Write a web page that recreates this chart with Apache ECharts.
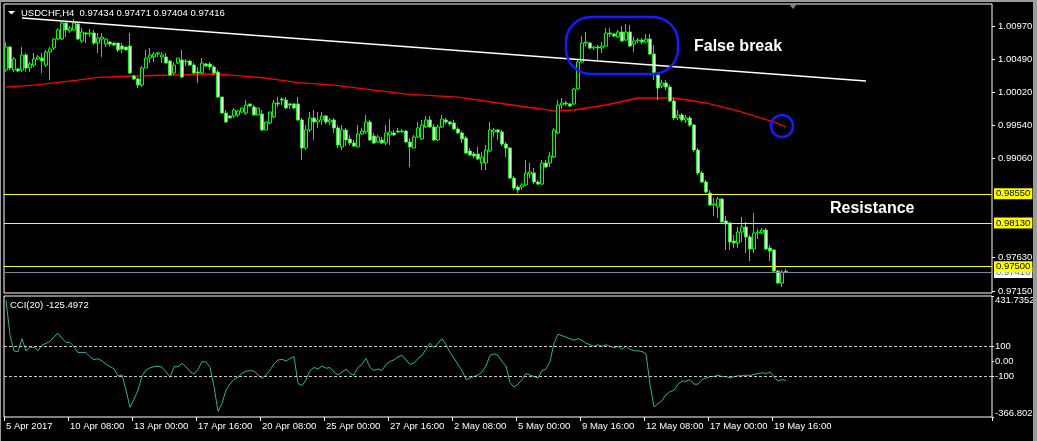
<!DOCTYPE html>
<html><head><meta charset="utf-8">
<script src="https://cdn.jsdelivr.net/npm/echarts@6/dist/echarts.min.js"></script>
<style>html,body{margin:0;padding:0;background:#000;overflow:hidden}#c{width:1037px;height:441px}</style>
</head><body><div id="c"></div>
<script>
// ---------- DATA ----------
const tickLabels = ['5 Apr 2017','10 Apr 08:00','13 Apr 00:00','17 Apr 16:00','20 Apr 08:00','25 Apr 00:00','27 Apr 16:00','2 May 08:00','5 May 00:00','9 May 16:00','12 May 08:00','17 May 00:00','19 May 16:00'];
// [open, close, low, high]
const candles = [
[1.00336,1.00667,1.00306,1.00739],[1.00667,1.00364,1.00336,1.00681],[1.00336,1.00494,1.00306,1.00523],[1.00350,1.00321,1.00306,1.00364],
[1.00336,1.00552,1.00306,1.00667],[1.00552,1.00364,1.00306,1.00581],[1.00364,1.00422,1.00306,1.00451],[1.00407,1.00494,1.00379,1.00581],
[1.00494,1.00523,1.00480,1.00552],[1.00508,1.00465,1.00292,1.00581],[1.00407,1.00595,1.00379,1.00624],[1.00595,1.00638,1.00191,1.00667],
[1.00653,1.00782,1.00624,1.00797],[1.00782,1.00912,1.00768,1.00941],[1.00782,1.01013,1.00768,1.01028],[1.01013,1.00912,1.00811,1.01028],
[1.00898,1.00941,1.00869,1.00970],[1.00912,1.01013,1.00898,1.01071],[1.00999,1.00782,1.00768,1.01013],[1.00754,1.00883,1.00725,1.00941],
[1.00869,1.00855,1.00725,1.00883],[1.00855,1.00869,1.00811,1.00927],[1.00869,1.00725,1.00696,1.00912],[1.00725,1.00797,1.00581,1.00869],
[1.00782,1.00811,1.00523,1.00869],[1.00710,1.00782,1.00667,1.00797],[1.00739,1.00710,1.00681,1.00754],[1.00725,1.00696,1.00681,1.00725],
[1.00725,1.00624,1.00595,1.00725],[1.00681,1.00638,1.00581,1.00725],[1.00667,1.00624,1.00624,1.00667],[1.00681,1.00292,1.00278,1.00869],
[1.00249,1.00206,1.00191,1.00263],[1.00206,1.00119,1.00076,1.00234],[1.00119,1.00364,1.00090,1.00393],[1.00364,1.00508,1.00364,1.00624],
[1.00508,1.00552,1.00436,1.00653],[1.00523,1.00566,1.00451,1.00595],[1.00566,1.00581,1.00523,1.00595],[1.00523,1.00552,1.00436,1.00595],
[1.00523,1.00436,1.00436,1.00581],[1.00465,1.00263,1.00249,1.00480],[1.00292,1.00407,1.00263,1.00451],[1.00436,1.00508,1.00422,1.00508],
[1.00480,1.00234,1.00220,1.00624],[1.00451,1.00465,1.00393,1.00494],[1.00465,1.00407,1.00393,1.00480],[1.00407,1.00292,1.00278,1.00436],
[1.00306,1.00292,1.00148,1.00379],[1.00292,1.00436,1.00278,1.00508],[1.00422,1.00393,1.00379,1.00436],[1.00422,1.00379,1.00336,1.00451],
[1.00379,1.00292,1.00263,1.00407],[1.00306,0.99946,0.99932,1.00336],[0.99946,0.99715,0.99715,0.99946],[0.99715,0.99586,0.99572,0.99759],
[0.99673,0.99644,0.99644,0.99687],[0.99673,0.99759,0.99644,0.99788],[0.99687,0.99745,0.99658,0.99759],[0.99730,0.99788,0.99715,0.99788],
[0.99715,0.99831,0.99687,0.99903],[0.99846,0.99817,0.99802,0.99846],[0.99802,0.99687,0.99687,0.99831],[0.99687,0.99788,0.99687,0.99788],
[0.99701,0.99471,0.99456,0.99759],[0.99471,0.99586,0.99471,0.99586],[0.99572,0.99730,0.99557,0.99730],[0.99658,0.99860,0.99644,0.99903],
[0.99860,0.99846,0.99802,0.99946],[0.99918,0.99903,0.99831,0.99946],[0.99903,0.99788,0.99773,0.99946],[0.99846,0.99831,0.99773,0.99860],
[0.99846,0.99788,0.99773,0.99860],[0.99846,0.99615,0.99600,0.99946],[0.99615,0.99211,0.99038,0.99644],[0.99211,0.99471,0.99182,0.99543],
[0.99471,0.99644,0.99442,0.99730],[0.99644,0.99586,0.99327,0.99759],[0.99586,0.99615,0.99500,0.99730],[0.99615,0.99673,0.99543,0.99730],
[0.99673,0.99586,0.99557,0.99687],[0.99586,0.99615,0.99543,0.99644],[0.99615,0.99500,0.99428,0.99644],[0.99500,0.99254,0.99211,0.99543],
[0.99226,0.99471,0.99182,0.99543],[0.99471,0.99327,0.99240,0.99500],[0.99341,0.99283,0.99254,0.99399],[0.99283,0.99240,0.99226,0.99327],
[0.99226,0.99413,0.99226,0.99543],[0.99413,0.99456,0.99399,0.99500],[0.99442,0.99586,0.99413,0.99687],[0.99586,0.99327,0.99312,0.99615],
[0.99384,0.99283,0.99269,0.99428],[0.99298,0.99370,0.99283,0.99399],[0.99327,0.99283,0.99269,0.99370],[0.99283,0.99428,0.99254,0.99543],
[0.99399,0.99442,0.99254,0.99629],[0.99428,0.99399,0.99384,0.99471],[0.99456,0.99442,0.99428,0.99500],[0.99442,0.99456,0.99428,0.99485],
[0.99456,0.99298,0.99283,0.99471],[0.99298,0.99226,0.98937,0.99355],[0.99211,0.99370,0.99211,0.99399],[0.99370,0.99500,0.99355,0.99586],
[0.99341,0.99543,0.99327,0.99615],[0.99514,0.99615,0.99500,0.99673],[0.99615,0.99514,0.99500,0.99673],[0.99514,0.99327,0.99312,0.99557],
[0.99327,0.99514,0.99312,0.99543],[0.99514,0.99629,0.99500,0.99687],[0.99615,0.99586,0.99557,0.99644],[0.99586,0.99557,0.99529,0.99600],
[0.99572,0.99485,0.99471,0.99615],[0.99485,0.99428,0.99413,0.99514],[0.99428,0.99341,0.99283,0.99456],[0.99355,0.99139,0.99125,0.99384],
[0.99168,0.99110,0.99096,0.99211],[0.99125,0.99096,0.99067,0.99154],[0.99125,0.99053,0.99038,0.99226],[0.98995,0.99081,0.98894,0.99154],
[0.98995,0.99182,0.98894,0.99254],[0.99168,0.99471,0.99154,0.99586],[0.99442,0.99471,0.99370,0.99500],[0.99471,0.99442,0.99327,0.99485],
[0.99442,0.99269,0.99240,0.99471],[0.99269,0.99211,0.99081,0.99298],[0.99211,0.98778,0.98764,0.99226],[0.98778,0.98634,0.98606,0.98807],
[0.98649,0.98606,0.98562,0.98678],[0.98649,0.98678,0.98606,0.98707],[0.98678,0.98851,0.98663,0.99038],[0.98836,0.98865,0.98778,0.98995],
[0.98851,0.98721,0.98692,0.98923],[0.98721,0.98692,0.98678,0.98750],[0.98692,0.98995,0.98678,0.99038],[0.98995,0.98937,0.98923,0.99038],
[0.98995,0.99096,0.98937,0.99154],[0.99081,0.99471,0.99067,0.99500],[0.99428,0.99831,0.99413,0.99903],[0.99831,0.99860,0.99774,0.99932],
[0.99860,0.99846,0.99817,0.99889],[0.99846,0.99817,0.99802,0.99860],[0.99846,1.00062,0.99831,1.00076],[1.00062,1.00451,1.00047,1.00480],
[1.00451,1.00725,1.00436,1.00826],[1.00725,1.00739,1.00681,1.00883],[1.00725,1.00653,1.00638,1.00739],[1.00653,1.00667,1.00624,1.00681],
[1.00667,1.00653,1.00480,1.00696],[1.00653,1.00681,1.00581,1.00739],[1.00681,1.00869,1.00667,1.00941],[1.00869,1.00855,1.00811,1.00941],
[1.00855,1.00826,1.00811,1.00869],[1.00811,1.00883,1.00797,1.00912],[1.00883,1.00754,1.00739,1.00970],[1.00768,1.00883,1.00754,1.00999],
[1.00883,1.00681,1.00667,1.00985],[1.00710,1.00754,1.00595,1.00811],[1.00754,1.00768,1.00725,1.00797],[1.00768,1.00739,1.00710,1.00797],
[1.00739,1.00782,1.00725,1.00855],[1.00782,1.00566,1.00552,1.00855],[1.00566,1.00292,1.00191,1.00696],[1.00263,1.00076,0.99903,1.00306],
[1.00105,1.00148,1.00076,1.00191],[1.00148,1.00090,1.00047,1.00191],[1.00090,0.99889,0.99874,1.00119],[0.99889,0.99644,0.99615,0.99932],
[0.99644,0.99687,0.99615,0.99759],[0.99687,0.99615,0.99586,0.99716],[0.99615,0.99644,0.99572,0.99687],[0.99644,0.99543,0.99514,0.99673],
[0.99543,0.99182,0.99154,0.99557],[0.99182,0.98851,0.98822,0.99211],[0.98851,0.98721,0.98707,0.98880],[0.98721,0.98577,0.98562,0.98750],
[0.98562,0.98389,0.98375,0.98606],[0.98389,0.98404,0.98231,0.98490],[0.98361,0.98476,0.98202,0.98505],[0.98476,0.98145,0.98130,0.98490],
[0.98159,0.98116,0.97741,0.98231],[0.98130,0.97856,0.97741,0.98145],[0.97870,0.97842,0.97770,0.97957],[0.97842,0.98000,0.97770,0.98073],
[0.98000,0.98073,0.97856,0.98217],[0.98073,0.97928,0.97698,0.98145],[0.97928,0.97755,0.97582,0.97957],[0.97755,0.97986,0.97698,0.98274],
[0.97986,0.98000,0.97899,0.98044],[0.97986,0.98029,0.97971,0.98058],[0.98029,0.97755,0.97741,0.98058],[0.97770,0.97726,0.97582,0.97813],
[0.97741,0.97438,0.97423,0.97755],[0.97438,0.97265,0.97250,0.97452],[0.97265,0.97423,0.97207,0.97452],[0.97434,0.97416,0.97404,0.97471]
];
const cci = [
404,172,69,64,150,70,93,93,71,108,119,132,163,185,152,126,126,97,58,60,
58,31,11,18,3,-17,-35,-48,-96,-90,-189,-303,-250,-189,-96,-57,-42,-35,-31,-39,
-68,-105,-35,-35,-13,-35,-68,-83,-52,-2,-4,-39,-167,-329,-277,-189,-149,-118,-105,-79,
-64,-61,-64,-88,-112,-90,-57,-17,9,14,3,20,31,-145,-160,-120,-60,-40,-50,-30,
-45,-40,-70,-90,-70,-50,-80,-90,-40,-20,20,-40,-60,-50,-60,-20,0,10,30,40,
10,-20,-10,20,40,80,120,90,120,150,110,60,20,-20,-60,-120,-110,-100,-90,-70,
-30,40,50,40,0,-30,-140,-170,-150,-120,-80,-90,-100,-110,-60,-50,0,120,180,170,
160,150,140,150,140,120,110,100,110,100,110,100,90,100,80,100,80,70,70,65,
50,-150,-300,-280,-260,-220,-200,-190,-150,-130,-130,-120,-150,-150,-120,-110,-100,-100,-90,-100,
-100,-110,-100,-95,-95,-90,-95,-85,-80,-75,-80,-70,-100,-130,-120,-125.4972
];
const maPoints = [[0,1.00090],[7,1.00119],[18,1.00191],[23,1.00230],[32,1.00249],[52,1.00278],[57,1.00259],[65,1.00220],[73,1.00153],[82,1.00119],[86,1.00090],[100,0.99989],[113,0.99946],[123,0.99860],[130,0.99802],[137,0.99745],[142,0.99759],[150,0.99831],[158,0.99932],[167,0.99932],[175,0.99860],[183,0.99745],[192,0.99586],[195,0.99514]];
const trendLine = [[4,1.01085],[215,1.00177]];
const levels = [0.98550, 0.98130, 0.97500];
const bid = 0.97416;
const priceTicks = [1.00970,1.00490,1.00020,0.99540,0.99060,0.97630,0.97150];
const cciTicks = [431.7352,100,0,-100,-366.8026];
const cciTickLabels = ['431.7352','100','0.00','-100','-366.8026'];
const headerText = 'USDCHF,H4  0.97434 0.97471 0.97404 0.97416';
const cciText = 'CCI(20) -125.4972';

// ---------- CHART ----------
const N = 247;
const categories = Array.from({length:N},(_,i)=> (i%16===0 && i/16<tickLabels.length) ? tickLabels[i/16] : '');
const FONT = 'Liberation Sans';
const chart = echarts.init(document.getElementById('c'));
const lblStyle = {color:'#ffffff', fontFamily:FONT, fontSize:9.5};
const levelLabel = (v,bg,fg)=>({show:true,position:'end',distance:2,formatter:()=>v.toFixed(5),backgroundColor:bg,color:fg,padding:[1,2,0,2],fontFamily:FONT,fontSize:9.5});

chart.setOption({
  backgroundColor:'#000',
  animation:false,
  grid:[
    {left:4,right:45,top:4,height:289,show:true,borderColor:'#fff',borderWidth:1,backgroundColor:'#000',containLabel:false,outerBoundsMode:'none'},
    {left:4,right:45,top:296,height:121,show:true,borderColor:'#fff',borderWidth:1,backgroundColor:'#000',containLabel:false,outerBoundsMode:'none'}
  ],
  xAxis:[
    {type:'category',gridIndex:0,data:categories,boundaryGap:true,show:false},
    {type:'category',gridIndex:1,data:categories,boundaryGap:true,position:'bottom',
     axisLine:{show:false,onZero:false},
     axisTick:{show:true,interval:(i)=>i%16===0 && i<=192,length:4,lineStyle:{color:'#fff'}},
     axisLabel:Object.assign({interval:(i,v)=>v!=='',align:'left',margin:4},lblStyle),
     splitLine:{show:false}}
  ],
  yAxis:[
    {type:'value',gridIndex:0,position:'right',min:0.97121,max:1.01287,
     splitLine:{show:false},axisLine:{show:false},
     axisTick:{show:true,customValues:priceTicks,length:3,lineStyle:{color:'#fff'}},
     axisLabel:Object.assign({customValues:priceTicks,formatter:v=>v.toFixed(5),margin:6},lblStyle)},
    {type:'value',gridIndex:1,position:'right',min:-366.8026,max:431.7352,
     splitLine:{show:false},axisLine:{show:false},
     axisTick:{show:true,customValues:cciTicks,length:2,lineStyle:{color:'#fff'}},
     axisLabel:Object.assign({customValues:cciTicks,margin:3,
       formatter:v=>{const k=cciTicks.indexOf(v);const s=k>=0?cciTickLabels[k]:String(v);
         if(k===0) return '{t|'+s+'}'; if(k===cciTicks.length-1) return '{b|'+s+'}'; return s;},
       rich:{t:{padding:[8,0,0,0],color:'#fff',fontFamily:FONT,fontSize:9.5},b:{padding:[0,0,8,0],color:'#fff',fontFamily:FONT,fontSize:9.5}}},lblStyle)}
  ],
  series:[
    {type:'line',name:'MA',xAxisIndex:0,yAxisIndex:0,data:maPoints,symbol:'none',
     lineStyle:{color:'#ff0000',width:1.3},z:2,
     markLine:{silent:true,symbol:['none','none'],animation:false,precision:5,
       data:[{yAxis:bid,lineStyle:{color:'#778899',width:1,type:'solid'},label:levelLabel(bid,'#ffffff','#5a6878')}]
        .concat(levels.map(v=>({yAxis:v,lineStyle:{color:'#ffff00',width:1,type:'solid'},label:levelLabel(v,'#ffff00','#000000')})))}},
    {type:'candlestick',xAxisIndex:0,yAxisIndex:0,data:candles,barWidth:3,z:3,
     itemStyle:{color:'#000000',color0:'#ffffff',borderColor:'#00ff00',borderColor0:'#00ff00',borderWidth:1}},
    {type:'line',name:'Trend',xAxisIndex:0,yAxisIndex:0,data:trendLine,symbol:'none',
     lineStyle:{color:'#ffffff',width:1.5},z:4},
    {type:'line',name:'CCI',xAxisIndex:1,yAxisIndex:1,data:cci,symbol:'none',
     lineStyle:{color:'#20b2aa',width:1},
     markLine:{silent:true,symbol:['none','none'],label:{show:false},precision:5,
       lineStyle:{color:'#c8c8c8',width:1,type:[3,2]},data:[{yAxis:100},{yAxis:-100}]}}
  ]
});

// ---------- ANNOTATIONS (anchored to data coordinates) ----------
const P = (i,v)=>chart.convertToPixel({xAxisIndex:0,yAxisIndex:0},[i,v]);
const r1 = P(139.5,1.01100), r2 = P(167.5,1.00278);
const circ = P(194.4,0.99528);
const fb = P(171.5,1.00667);
const rs = P(205.7,0.98332);
chart.setOption({graphic:[
  {type:'rect',z:100,shape:{x:r1[0],y:r1[1],width:r2[0]-r1[0],height:r2[1]-r1[1],r:25},style:{fill:'none',stroke:'#1a1aff',lineWidth:2.5}},
  {type:'circle',z:100,shape:{cx:circ[0],cy:circ[1],r:11},style:{fill:'none',stroke:'#1a1aff',lineWidth:2.5}},
  {type:'text',z:100,style:{x:fb[0],y:fb[1],text:'False break',fill:'#ffffff',font:'bold 16px Liberation Sans',align:'left',verticalAlign:'middle'}},
  {type:'text',z:100,style:{x:rs[0],y:rs[1],text:'Resistance',fill:'#ffffff',font:'bold 16px Liberation Sans',align:'left',verticalAlign:'middle'}},
  {type:'text',z:100,style:{x:21,y:13,text:headerText,fill:'#ffffff',font:'9.5px Liberation Sans',align:'left',verticalAlign:'middle'}},
  {type:'polygon',z:100,shape:{points:[[8,11],[15,11],[11.5,14.5]]},style:{fill:'#ffffff'}},
  {type:'polygon',z:100,shape:{points:[[789,4],[797,4],[793,9]]},style:{fill:'#808080'}},
  {type:'text',z:100,style:{x:10,y:305,text:cciText,fill:'#ffffff',font:'9.5px Liberation Sans',align:'left',verticalAlign:'middle'}},
  {type:'rect',z:200,shape:{x:0,y:0,width:1037,height:2},style:{fill:'#9a9a9a'}},
  {type:'rect',z:200,shape:{x:1033,y:0,width:4,height:441},style:{fill:'#9a9a9a'}},
  {type:'rect',z:200,shape:{x:0,y:0,width:1,height:441},style:{fill:'#9a9a9a'}}
]});
</script>
</body></html>
